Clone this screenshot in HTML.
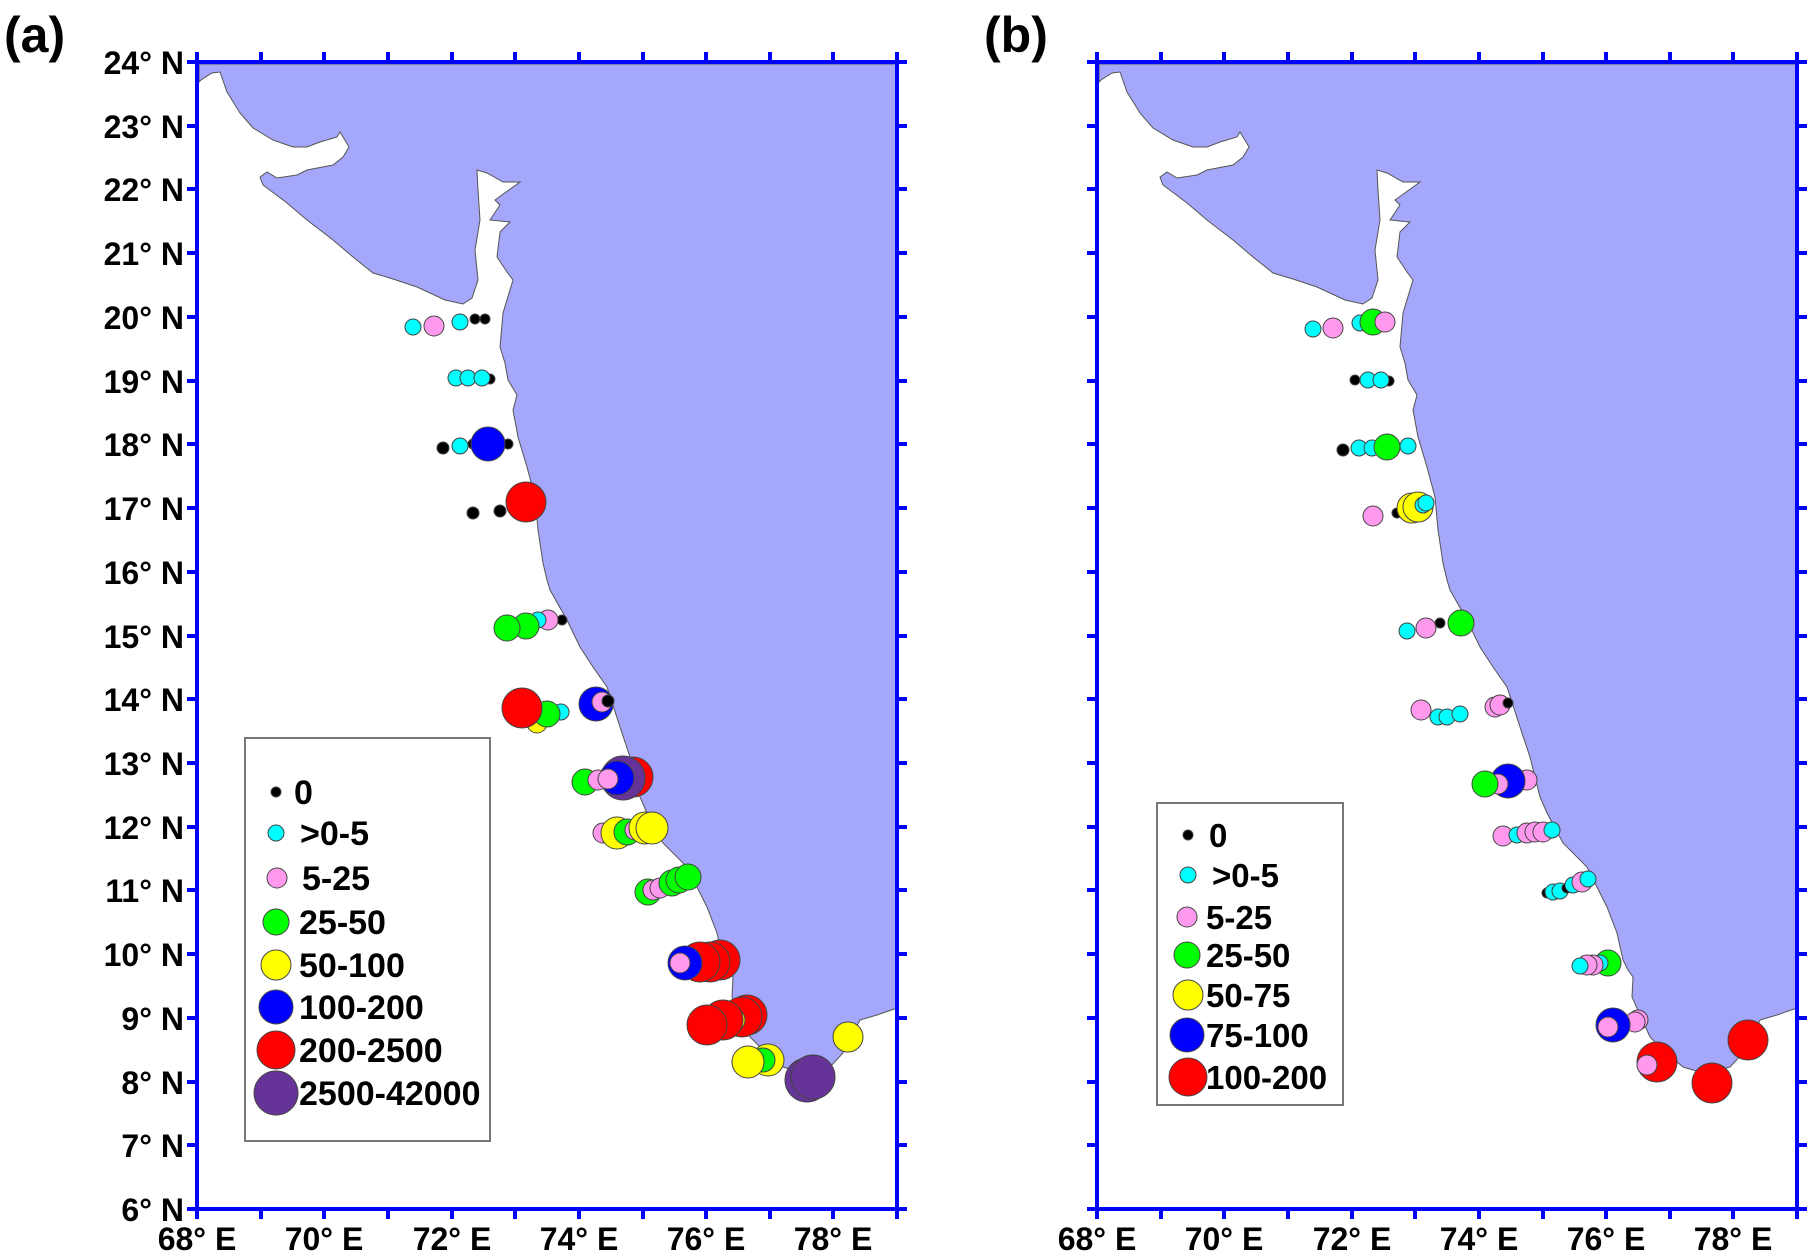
<!DOCTYPE html>
<html><head><meta charset="utf-8"><style>
html,body{margin:0;padding:0;background:#fff;}
svg{display:block;}
text{font-family:"Liberation Sans",Arial,sans-serif;font-weight:bold;fill:#000;}
</style></head><body>
<svg width="1815" height="1260" viewBox="0 0 1815 1260" xmlns="http://www.w3.org/2000/svg">
<defs>
<polygon id="land" points="199,64 897,64 897,1008 877,1015 860,1020 843,1053 830,1067 803,1073 783,1067 763,1050 750,1037 732,997 733,977 728,970 723,960 717,933 707,907 700,893 687,867 663,843 647,813 640,797 630,757 620,727 607,687 593,667 580,647 567,620 550,590 547,580 543,563 538,530 535,497 527,467 518,437 513,410 517,395 508,380 505,363 500,347 503,313 513,280 507,272 497,257 500,232 510,222 490,220 500,205 495,200 520,182 503,182 487,173 477,170 478,190 480,220 475,250 478,280 472,298 463,304 445,300 417,287 393,279 373,273 353,257 333,240 307,220 287,203 263,185 260,177 267,172 277,178 297,175 307,170 333,165 343,157 349,147 343,137 340,132 337,137 320,142 307,147 293,147 273,140 253,128 240,113 227,92 220,72 212,73 201,80 199,82" fill="#a5a7fa" stroke="#555" stroke-width="1"/>
</defs>
<use href="#land"/>
<use href="#land" transform="translate(900,0)"/>

<g stroke="#444" stroke-width="1">
<!-- panel a -->
<circle cx="413" cy="327" r="8" fill="#00ffff"/><circle cx="434" cy="326" r="10" fill="#ff99ee"/><circle cx="460" cy="322" r="8" fill="#00ffff"/><circle cx="475" cy="319" r="5" fill="#000"/><circle cx="485" cy="319" r="5" fill="#000"/>
<circle cx="456" cy="378" r="8" fill="#00ffff"/><circle cx="468" cy="378" r="8" fill="#00ffff"/><circle cx="490" cy="379" r="5" fill="#000"/><circle cx="482" cy="378" r="8" fill="#00ffff"/>
<circle cx="443" cy="448" r="6" fill="#000"/><circle cx="460" cy="446" r="8" fill="#00ffff"/><circle cx="473" cy="444" r="5" fill="#000"/><circle cx="508" cy="444" r="5" fill="#000"/><circle cx="488" cy="444" r="17" fill="#0000ff"/>
<circle cx="473" cy="513" r="6" fill="#000"/><circle cx="500" cy="511" r="6" fill="#000"/><circle cx="526" cy="502" r="20" fill="#ff0000"/>
<circle cx="562" cy="620" r="5" fill="#000"/><circle cx="553" cy="620" r="5" fill="#000"/><circle cx="548" cy="620" r="10" fill="#ff99ee"/><circle cx="538" cy="620" r="8" fill="#00ffff"/><circle cx="526" cy="626" r="13" fill="#00ff00"/><circle cx="507" cy="628" r="13" fill="#00ff00"/>
<circle cx="537" cy="723" r="10" fill="#ffff00"/><circle cx="561" cy="712" r="8" fill="#00ffff"/><circle cx="547" cy="714" r="13" fill="#00ff00"/><circle cx="522" cy="708" r="20" fill="#ff0000"/>
<circle cx="596" cy="704" r="17" fill="#0000ff"/><circle cx="602" cy="702" r="10" fill="#ff99ee"/><circle cx="608" cy="701" r="6" fill="#000"/>
<circle cx="633" cy="777" r="20" fill="#ff0000"/><circle cx="623" cy="778" r="22" fill="#663399"/><circle cx="617" cy="778" r="17" fill="#0000ff"/><circle cx="585" cy="782" r="13" fill="#00ff00"/><circle cx="598" cy="780" r="10" fill="#ff99ee"/><circle cx="608" cy="779" r="10" fill="#ff99ee"/>
<circle cx="603" cy="833" r="10" fill="#ff99ee"/><circle cx="617" cy="833" r="16" fill="#ffff00"/><circle cx="627" cy="832" r="13" fill="#00ff00"/><circle cx="635" cy="830" r="10" fill="#ff99ee"/><circle cx="645" cy="828" r="16" fill="#ffff00"/><circle cx="652" cy="828" r="16" fill="#ffff00"/>
<circle cx="648" cy="892" r="13" fill="#00ff00"/><circle cx="653" cy="890" r="10" fill="#ff99ee"/><circle cx="660" cy="888" r="10" fill="#ff99ee"/><circle cx="672" cy="883" r="13" fill="#00ff00"/><circle cx="679" cy="880" r="13" fill="#00ff00"/><circle cx="688" cy="877" r="13" fill="#00ff00"/>
<circle cx="720" cy="960" r="20" fill="#ff0000"/><circle cx="710" cy="962" r="20" fill="#ff0000"/><circle cx="700" cy="962" r="20" fill="#ff0000"/><circle cx="685" cy="963" r="17" fill="#0000ff"/><circle cx="680" cy="963" r="10" fill="#ff99ee"/>
<circle cx="747" cy="1015" r="20" fill="#ff0000"/><circle cx="742" cy="1017" r="20" fill="#ff0000"/><circle cx="733" cy="1020" r="12" fill="#ffff00"/><circle cx="723" cy="1020" r="20" fill="#ff0000"/><circle cx="707" cy="1025" r="20" fill="#ff0000"/>
<circle cx="768" cy="1060" r="16" fill="#ffff00"/><circle cx="763" cy="1060" r="12" fill="#00ff00"/><circle cx="748" cy="1062" r="16" fill="#ffff00"/>
<circle cx="807" cy="1080" r="22" fill="#663399"/><circle cx="813" cy="1077" r="22" fill="#663399"/>
<circle cx="848" cy="1037" r="15" fill="#ffff00"/>
<!-- panel b -->
<circle cx="1313" cy="329" r="8" fill="#00ffff"/><circle cx="1333" cy="328" r="10" fill="#ff99ee"/><circle cx="1360" cy="323" r="8" fill="#00ffff"/><circle cx="1373" cy="322" r="13" fill="#00ff00"/><circle cx="1385" cy="322" r="10" fill="#ff99ee"/>
<circle cx="1355" cy="380" r="5" fill="#000"/><circle cx="1389" cy="381" r="5" fill="#000"/><circle cx="1368" cy="380" r="8" fill="#00ffff"/><circle cx="1381" cy="380" r="8" fill="#00ffff"/>
<circle cx="1343" cy="450" r="6" fill="#000"/><circle cx="1359" cy="448" r="8" fill="#00ffff"/><circle cx="1372" cy="448" r="8" fill="#00ffff"/><circle cx="1408" cy="446" r="8" fill="#00ffff"/><circle cx="1387" cy="447" r="13" fill="#00ff00"/>
<circle cx="1373" cy="516" r="10" fill="#ff99ee"/><circle cx="1397" cy="513" r="5" fill="#000"/><circle cx="1412" cy="508" r="15" fill="#ffff00"/><circle cx="1418" cy="507" r="15" fill="#ffff00"/><circle cx="1423" cy="505" r="8" fill="#00ffff"/><circle cx="1426" cy="503" r="8" fill="#00ffff"/>
<circle cx="1407" cy="631" r="8" fill="#00ffff"/><circle cx="1426" cy="628" r="10" fill="#ff99ee"/><circle cx="1440" cy="623" r="5" fill="#000"/><circle cx="1461" cy="623" r="13" fill="#00ff00"/>
<circle cx="1421" cy="710" r="10" fill="#ff99ee"/><circle cx="1438" cy="717" r="8" fill="#00ffff"/><circle cx="1447" cy="717" r="8" fill="#00ffff"/><circle cx="1460" cy="714" r="8" fill="#00ffff"/><circle cx="1495" cy="707" r="10" fill="#ff99ee"/><circle cx="1500" cy="705" r="10" fill="#ff99ee"/><circle cx="1508" cy="703" r="5" fill="#000"/>
<circle cx="1527" cy="780" r="10" fill="#ff99ee"/><circle cx="1508" cy="781" r="17" fill="#0000ff"/><circle cx="1498" cy="784" r="10" fill="#ff99ee"/><circle cx="1485" cy="784" r="13" fill="#00ff00"/>
<circle cx="1503" cy="836" r="10" fill="#ff99ee"/><circle cx="1517" cy="835" r="8" fill="#00ffff"/><circle cx="1527" cy="833" r="10" fill="#ff99ee"/><circle cx="1535" cy="832" r="10" fill="#ff99ee"/><circle cx="1543" cy="832" r="10" fill="#ff99ee"/><circle cx="1552" cy="830" r="8" fill="#00ffff"/>
<circle cx="1547" cy="893" r="5" fill="#000"/><circle cx="1553" cy="892" r="8" fill="#00ffff"/><circle cx="1560" cy="891" r="8" fill="#00ffff"/><circle cx="1567" cy="888" r="5" fill="#000"/><circle cx="1573" cy="885" r="8" fill="#00ffff"/><circle cx="1582" cy="882" r="10" fill="#ff99ee"/><circle cx="1588" cy="879" r="8" fill="#00ffff"/>
<circle cx="1608" cy="963" r="13" fill="#00ff00"/><circle cx="1600" cy="963" r="8" fill="#00ffff"/><circle cx="1593" cy="965" r="10" fill="#ff99ee"/><circle cx="1587" cy="965" r="10" fill="#ff99ee"/><circle cx="1580" cy="966" r="8" fill="#00ffff"/>
<circle cx="1638" cy="1020" r="10" fill="#ff99ee"/><circle cx="1635" cy="1022" r="10" fill="#ff99ee"/><circle cx="1613" cy="1025" r="17" fill="#0000ff"/><circle cx="1608" cy="1027" r="10" fill="#ff99ee"/>
<circle cx="1663" cy="1062" r="13" fill="#00ff00"/><circle cx="1657" cy="1062" r="20" fill="#ff0000"/><circle cx="1647" cy="1065" r="10" fill="#ff99ee"/>
<circle cx="1712" cy="1083" r="20" fill="#ff0000"/><circle cx="1748" cy="1040" r="20" fill="#ff0000"/>
</g>

<!-- legend a -->
<rect x="245" y="738" width="245" height="403" fill="#fff" stroke="#777" stroke-width="2"/>
<g stroke="#444" stroke-width="1">
<circle cx="276" cy="792" r="5" fill="#000"/><circle cx="276" cy="833" r="8" fill="#00ffff"/><circle cx="277" cy="878" r="10" fill="#ff99ee"/><circle cx="276" cy="922" r="13" fill="#00ff00"/><circle cx="276" cy="965" r="15" fill="#ffff00"/><circle cx="276" cy="1007" r="17" fill="#0000ff"/><circle cx="276" cy="1050" r="19" fill="#ff0000"/><circle cx="276" cy="1093" r="22" fill="#663399"/>
</g>
<g font-size="34">
<text x="294" y="804">0</text><text x="300" y="845">&gt;0-5</text><text x="302" y="890">5-25</text><text x="299" y="934">25-50</text><text x="299" y="977">50-100</text><text x="299" y="1019">100-200</text><text x="299" y="1062">200-2500</text><text x="299" y="1105">2500-42000</text>
</g>
<!-- legend b -->
<rect x="1157" y="803" width="186" height="302" fill="#fff" stroke="#777" stroke-width="2"/>
<g stroke="#444" stroke-width="1">
<circle cx="1188" cy="835" r="5" fill="#000"/><circle cx="1188" cy="875" r="8" fill="#00ffff"/><circle cx="1187" cy="917" r="10" fill="#ff99ee"/><circle cx="1187" cy="955" r="13" fill="#00ff00"/><circle cx="1188" cy="995" r="15" fill="#ffff00"/><circle cx="1187" cy="1035" r="17" fill="#0000ff"/><circle cx="1188" cy="1077" r="19" fill="#ff0000"/>
</g>
<g font-size="33">
<text x="1209" y="847">0</text><text x="1212" y="887">&gt;0-5</text><text x="1206" y="929">5-25</text><text x="1206" y="967">25-50</text><text x="1206" y="1007">50-75</text><text x="1206" y="1047">75-100</text><text x="1206" y="1089">100-200</text>
</g>

<g stroke="#0000ff" stroke-width="4" fill="none">
<rect x="197" y="62" width="700" height="1147"/>
<rect x="1097" y="62" width="700" height="1147"/>
</g>
<g stroke="#0000ff" stroke-width="4" id="ticks">
<path d="M197,62v-10M261,62v-10M324,62v-10M388,62v-10M452,62v-10M515,62v-10M579,62v-10M643,62v-10M706,62v-10M770,62v-10M833,62v-10M897,62v-10
M197,1209v10M261,1209v10M324,1209v10M388,1209v10M452,1209v10M515,1209v10M579,1209v10M643,1209v10M706,1209v10M770,1209v10M833,1209v10M897,1209v10
M197,62h-10M197,126h-10M197,189h-10M197,253h-10M197,317h-10M197,381h-10M197,444h-10M197,508h-10M197,572h-10M197,636h-10M197,699h-10M197,763h-10M197,827h-10M197,890h-10M197,954h-10M197,1018h-10M197,1082h-10M197,1145h-10M197,1209h-10
M897,62h10M897,126h10M897,189h10M897,253h10M897,317h10M897,381h10M897,444h10M897,508h10M897,572h10M897,636h10M897,699h10M897,763h10M897,827h10M897,890h10M897,954h10M897,1018h10M897,1082h10M897,1145h10M897,1209h10"/>
</g>
<use href="#ticks" transform="translate(900,0)"/>

<g font-size="32" text-anchor="end">
<text x="184" y="74">24° N</text><text x="184" y="138">23° N</text><text x="184" y="201">22° N</text><text x="184" y="265">21° N</text><text x="184" y="329">20° N</text><text x="184" y="393">19° N</text><text x="184" y="456">18° N</text><text x="184" y="520">17° N</text><text x="184" y="584">16° N</text><text x="184" y="648">15° N</text><text x="184" y="711">14° N</text><text x="184" y="775">13° N</text><text x="184" y="839">12° N</text><text x="184" y="902">11° N</text><text x="184" y="966">10° N</text><text x="184" y="1030">9° N</text><text x="184" y="1094">8° N</text><text x="184" y="1157">7° N</text><text x="184" y="1221">6° N</text>
</g>
<g font-size="32" text-anchor="middle">
<text x="197" y="1250">68° E</text><text x="324" y="1250">70° E</text><text x="452" y="1250">72° E</text><text x="579" y="1250">74° E</text><text x="706" y="1250">76° E</text><text x="833" y="1250">78° E</text>
<text x="1097" y="1250">68° E</text><text x="1224" y="1250">70° E</text><text x="1352" y="1250">72° E</text><text x="1479" y="1250">74° E</text><text x="1606" y="1250">76° E</text><text x="1733" y="1250">78° E</text>
</g>
<text x="4" y="52" font-size="50">(a)</text>
<text x="984" y="52" font-size="50">(b)</text>
</svg>
</body></html>
